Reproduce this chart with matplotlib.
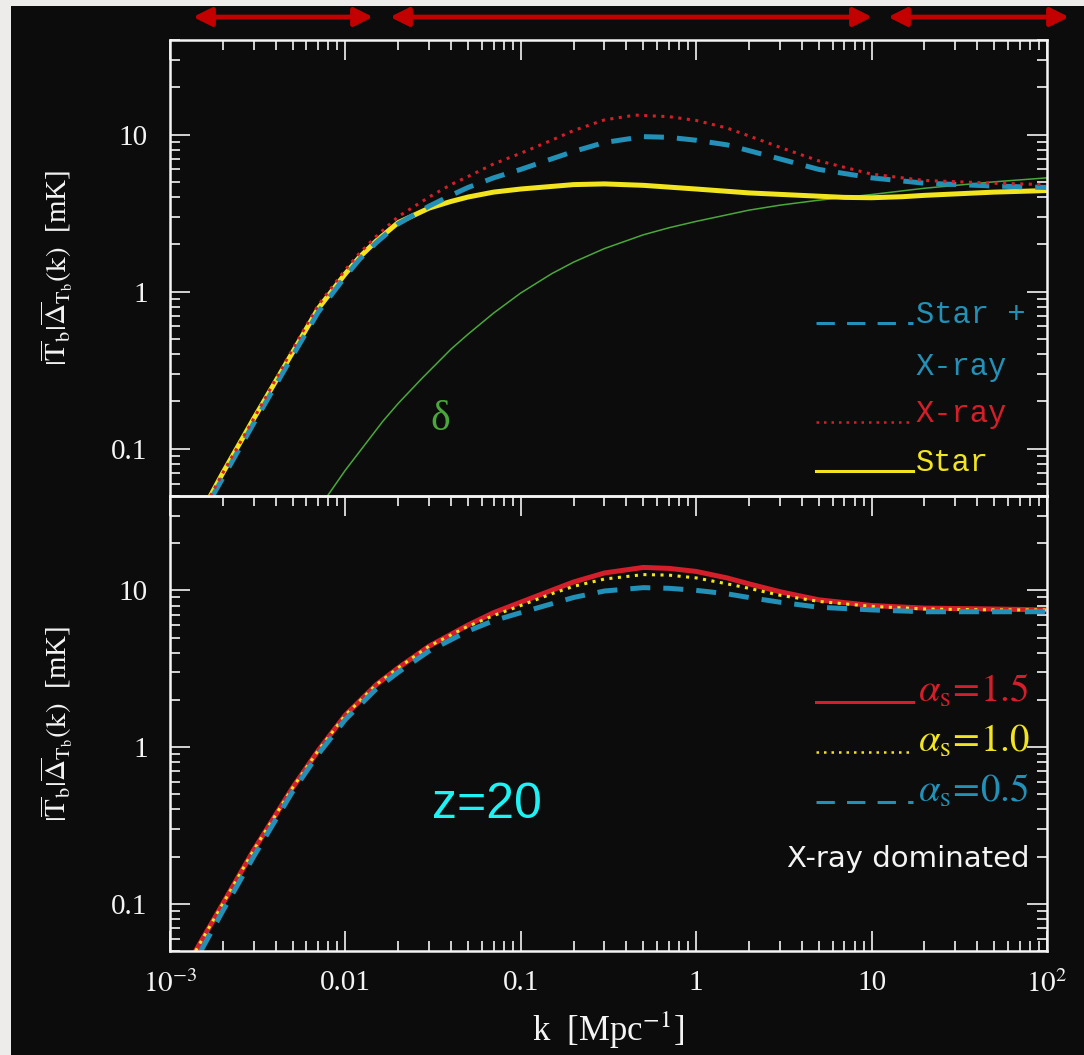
import matplotlib
matplotlib.use('Agg')
import matplotlib.pyplot as plt
from matplotlib.patches import Rectangle, FancyArrowPatch
from matplotlib.lines import Line2D
from matplotlib.ticker import LogLocator, NullFormatter

plt.rcParams['font.family'] = ['Liberation Serif', 'DejaVu Serif']
plt.rcParams['mathtext.fontset'] = 'stix'

# ---- data ----
# top panel
k_star = [0.0017, 0.002, 0.003, 0.005, 0.007, 0.01, 0.012, 0.015, 0.02, 0.03, 0.04, 0.05, 0.07, 0.1, 0.2, 0.3, 0.5, 1, 2, 5, 7, 10, 15, 20, 50, 100]
t_star = [0.05, 0.07, 0.155, 0.41, 0.78, 1.3, 1.65, 2.1, 2.75, 3.4, 3.75, 4.0, 4.3, 4.5, 4.8, 4.85, 4.75, 4.5, 4.25, 4.05, 3.98, 3.96, 4.02, 4.1, 4.3, 4.4]

k_starx = [0.00175, 0.002, 0.003, 0.005, 0.007, 0.01, 0.012, 0.015, 0.02, 0.03, 0.04, 0.05, 0.07, 0.1, 0.15, 0.2, 0.3, 0.5, 0.7, 1, 1.5, 2, 3, 5, 10, 20, 50, 100]
t_starx = [0.05, 0.065, 0.145, 0.39, 0.74, 1.25, 1.6, 2.05, 2.7, 3.5, 4.1, 4.6, 5.3, 6.0, 7.0, 7.8, 8.9, 9.7, 9.6, 9.2, 8.6, 7.9, 7.0, 6.0, 5.3, 4.9, 4.7, 4.6]

k_xray = [0.0017, 0.002, 0.003, 0.005, 0.007, 0.01, 0.012, 0.015, 0.02, 0.03, 0.04, 0.05, 0.07, 0.1, 0.15, 0.2, 0.3, 0.45, 0.7, 1, 1.5, 2, 3, 5, 10, 20, 50, 100]
t_xray = [0.05, 0.07, 0.155, 0.43, 0.82, 1.38, 1.75, 2.25, 3.0, 4.0, 4.8, 5.4, 6.5, 7.6, 9.2, 10.6, 12.4, 13.3, 13.0, 12.3, 11.0, 9.8, 8.3, 6.8, 5.6, 5.1, 4.9, 4.8]

k_delta = [0.0079, 0.01, 0.0164, 0.02, 0.0273, 0.04, 0.05, 0.07, 0.1, 0.15, 0.2, 0.3, 0.5, 0.7, 1, 2, 3, 5, 10, 20, 50, 100]
t_delta = [0.05, 0.073, 0.15, 0.194, 0.28, 0.43, 0.535, 0.73, 0.98, 1.3, 1.54, 1.88, 2.3, 2.55, 2.8, 3.3, 3.55, 3.82, 4.15, 4.55, 5.0, 5.3]

# bottom panel (X-ray dominated, z=20)
k_a15 = [0.0014, 0.002, 0.003, 0.005, 0.007, 0.01, 0.015, 0.02, 0.03, 0.05, 0.07, 0.1, 0.15, 0.2, 0.3, 0.5, 0.7, 1, 1.5, 2, 3, 5, 10, 20, 50, 100]
t_a15 = [0.05, 0.1, 0.22, 0.55, 0.95, 1.6, 2.5, 3.2, 4.4, 6.0, 7.2, 8.4, 10.0, 11.3, 12.9, 14.0, 13.8, 13.2, 12.0, 11.0, 9.8, 8.7, 8.0, 7.7, 7.6, 7.5]

k_a10 = [0.0014, 0.002, 0.003, 0.005, 0.007, 0.01, 0.015, 0.02, 0.03, 0.05, 0.07, 0.1, 0.15, 0.2, 0.3, 0.5, 0.7, 1, 1.5, 2, 3, 5, 10, 20, 50, 100]
t_a10 = [0.05, 0.1, 0.22, 0.55, 0.95, 1.6, 2.5, 3.2, 4.4, 5.9, 6.9, 8.0, 9.5, 10.6, 11.8, 12.6, 12.5, 12.0, 11.0, 10.3, 9.3, 8.5, 7.9, 7.6, 7.5, 7.5]

k_a05 = [0.0015, 0.002, 0.003, 0.005, 0.007, 0.01, 0.015, 0.02, 0.03, 0.05, 0.07, 0.1, 0.15, 0.2, 0.3, 0.5, 0.7, 1, 1.5, 2, 3, 5, 10, 20, 50, 100]
t_a05 = [0.05, 0.09, 0.2, 0.52, 0.9, 1.5, 2.35, 3.0, 4.1, 5.5, 6.4, 7.2, 8.2, 9.0, 9.9, 10.4, 10.3, 10.0, 9.5, 9.0, 8.4, 7.8, 7.5, 7.3, 7.3, 7.3]

xticks = [1e-3, 1e-2, 1e-1, 1, 10, 100]
xticklabels = [r'$10^{-3}$', '0.01', '0.1', '1', '10', r'$10^2$']
yticks = [0.1, 1, 10]
yticklabels = ['0.1', '1', '10']

BG = '#0b0c0b'
WHITE = '#f4f4f4'
YEL = '#f2e41e'
BLUE = '#2390b8'
RED = '#d41f2a'
GREEN = '#4aa83a'
CYAN = '#1ff2f4'

fig = plt.figure(figsize=(10.84, 10.55), dpi=100)
fig.patch.set_facecolor('#eeeceb')
fig.add_artist(Rectangle((11 / 1084, 0), 1, 1 - 6 / 1055, transform=fig.transFigure,
                         facecolor=BG, edgecolor='none', zorder=0))

ax1 = fig.add_axes([0.1568, 0.5299, 0.809, 0.4322])
ax2 = fig.add_axes([0.1568, 0.0986, 0.809, 0.4313])

ylab = r'$|\overline{\mathrm{T}}_{\mathrm{b}}|\overline{\Delta}_{\mathrm{T}_{\mathrm{b}}}(\mathrm{k})$  [mK]'

for ax in (ax1, ax2):
    ax.set_facecolor('none')
    ax.set_xscale('log')
    ax.set_yscale('log')
    ax.set_xlim(1e-3, 1e2)
    ax.set_ylim(0.05, 40)
    for s in ax.spines.values():
        s.set_color(WHITE)
        s.set_linewidth(1.8)
    ax.set_xticks(xticks)
    ax.set_yticks(yticks)
    ax.set_yticklabels(yticklabels)
    ax.xaxis.set_minor_locator(LogLocator(base=10, subs=range(2, 10), numticks=20))
    ax.yaxis.set_minor_locator(LogLocator(base=10, subs=range(2, 10), numticks=20))
    ax.xaxis.set_minor_formatter(NullFormatter())
    ax.yaxis.set_minor_formatter(NullFormatter())
    ax.tick_params(which='both', direction='in', colors=WHITE, top=True, right=True,
                   labelsize=21)
    ax.tick_params(axis='x', pad=14)
    ax.tick_params(axis='y', pad=16)
    ax.tick_params(which='major', length=14.5, width=1.2)
    ax.tick_params(which='minor', length=7.5, width=1.2)
    ax.set_ylabel(ylab, color=WHITE, fontsize=21)
    ax.yaxis.set_label_coords(-0.108, 0.5)

ax1.tick_params(which='both', bottom=False, labelbottom=False)
ax2.set_xticklabels(xticklabels)
ax2.set_xlabel(r'k  [Mpc$^{-1}$]', color=WHITE, fontsize=25, labelpad=8)

# top panel curves
ax1.plot(k_delta, t_delta, color=GREEN, lw=1.1)
ax1.plot(k_star, t_star, color=YEL, lw=3.6, solid_capstyle='butt')
ax1.plot(k_starx, t_starx, color=BLUE, lw=3.6, dashes=(4, 2.6))
ax1.plot(k_xray, t_xray, color=RED, lw=2.2, dashes=(1, 1.8))

ax1.text(0.308, 0.167, 'δ', color=GREEN, fontsize=30, transform=ax1.transAxes,
         ha='center', va='center')

# top legend
x0, x1, xt = 0.7366, 0.847, 0.8506
leg_top = [
    (0.3794, BLUE, dict(lw=2.2, dashes=(6, 4)), 'Star +'),
    (0.2654, None, None, 'X-ray'),
    (0.1623, RED, dict(lw=1.8, dashes=(1, 2)), 'X-ray'),
    (0.0548, YEL, dict(lw=2.2), 'Star'),
]
tcols = [BLUE, BLUE, RED, YEL]
for (yy, c, st, lab), tc in zip(leg_top, tcols):
    if c is not None:
        ax1.add_line(Line2D([x0, x1], [yy, yy], color=c, transform=ax1.transAxes, **st))
    ax1.text(xt, yy, lab, color=tc, fontsize=22, family='Liberation Mono',
             transform=ax1.transAxes, ha='left', va='baseline')

# bottom panel curves
ax2.plot(k_a15, t_a15, color=RED, lw=3.6)
ax2.plot(k_a10, t_a10, color=YEL, lw=2.2, dashes=(1, 1.8))
ax2.plot(k_a05, t_a05, color=BLUE, lw=3.6, dashes=(4, 2.6))

leg_bot = [
    (0.547, RED, dict(lw=2.2), r'$\alpha_{\mathrm{s}}\!=\!1.5$'),
    (0.437, YEL, dict(lw=1.8, dashes=(1, 2)), r'$\alpha_{\mathrm{s}}\!=\!1.0$'),
    (0.327, BLUE, dict(lw=2.2, dashes=(6, 4)), r'$\alpha_{\mathrm{s}}\!=\!0.5$'),
]
for yy, c, st, lab in leg_bot:
    ax2.add_line(Line2D([x0, x1], [yy, yy], color=c, transform=ax2.transAxes, **st))
    ax2.text(xt + 0.002, yy, lab, color=c, fontsize=28, transform=ax2.transAxes,
             ha='left', va='baseline')

ax2.text(0.9806, 0.185, 'X-ray dominated', color=WHITE, fontsize=21, family='DejaVu Sans',
         transform=ax2.transAxes, ha='right', va='baseline')
ax2.text(0.3615, 0.292, 'z=20', color=CYAN, fontsize=36, family='Liberation Sans',
         transform=ax2.transAxes, ha='center', va='baseline')

# red range arrows above the plot
for xa, xb in [(193, 373), (390, 872), (888, 1069)]:
    arr = FancyArrowPatch((xa / 1084, 1 - 17 / 1055), (xb / 1084, 1 - 17 / 1055),
                          transform=fig.transFigure, arrowstyle='<|-|>,head_length=11,head_width=5.5',
                          mutation_scale=1, color='#c20000', lw=3.4, shrinkA=0, shrinkB=0)
    fig.add_artist(arr)

fig.savefig('out.png', dpi=100, facecolor=fig.get_facecolor())
